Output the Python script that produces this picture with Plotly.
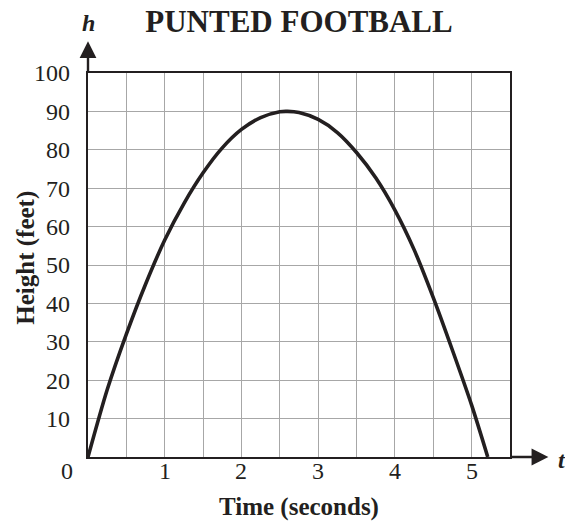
import plotly.graph_objects as go

# Values (height of the punt at each time)
time_s = [0, 0.25, 0.5, 0.75, 1.0, 1.25, 1.5, 1.75, 2.0, 2.25, 2.5, 2.6,
          2.75, 3.0, 3.25, 3.5, 3.75, 4.0, 4.25, 4.5, 4.75, 5.0, 5.21]
height_ft = [0, 17.5, 32, 45, 56.5, 66, 74, 80.5, 85.3, 88.4, 89.9, 90,
             89.7, 87.9, 84.5, 79.3, 72.7, 64.3, 54, 41.5, 27.8, 13.5, 0]

x_gridvals = [0, 0.5, 1, 1.5, 2, 2.5, 3, 3.5, 4, 4.5, 5, 5.5]
x_tick_labels = [1, 2, 3, 4, 5]
y_tickvals = [0, 10, 20, 30, 40, 50, 60, 70, 80, 90, 100]
y_ticktext = ["", "10", "20", "30", "40", "50", "60", "70", "80", "90", "100"]

INK = "#231f20"
GRID = "#a7a7a7"
FONT = "Liberation Serif"

fig = go.Figure()
fig.add_trace(go.Scatter(
    x=time_s, y=height_ft, mode="lines",
    line=dict(color=INK, width=3.6, shape="spline", smoothing=0.8),
    hoverinfo="skip", showlegend=False, cliponaxis=False,
))

fig.update_layout(
    width=565, height=521,
    margin=dict(l=88, r=55, t=73, b=64),
    paper_bgcolor="white", plot_bgcolor="white",
    font=dict(family=FONT, color=INK, size=24),
    title=dict(text="<b>PUNTED FOOTBALL</b>", x=0.5, xref="paper",
               y=1 - 21 / 521, yref="container", xanchor="center", yanchor="middle",
               font=dict(family=FONT, size=31, color=INK)),
    xaxis=dict(range=[0, 5.5], tickvals=x_gridvals, showticklabels=False,
               showgrid=True, gridcolor=GRID, gridwidth=1, zeroline=False,
               showline=True, mirror=True, linecolor=INK, linewidth=2.2,
               ticks="", ticklen=0),
    yaxis=dict(range=[0, 100], tickvals=y_tickvals, ticktext=y_ticktext,
               showgrid=True, gridcolor=GRID, gridwidth=1, zeroline=False,
               showline=True, mirror=True, linecolor=INK, linewidth=2.2,
               ticks="", ticklen=0, ticklabelstandoff=11,
               tickfont=dict(size=24, family=FONT, color=INK)),
)

annotations = [
    # y-axis arrow
    dict(x=0, y=108.3, ax=0, ay=100, xref="x", yref="y", axref="x", ayref="y",
         text="", showarrow=True, arrowhead=2, arrowsize=1.4, arrowwidth=2.4, arrowcolor=INK),
    # x-axis arrow
    dict(x=6.0, y=0, ax=5.5, ay=0, xref="x", yref="y", axref="x", ayref="y",
         text="", showarrow=True, arrowhead=2, arrowsize=1.4, arrowwidth=2.4, arrowcolor=INK),
    dict(x=0, y=1, xref="paper", yref="paper", yshift=50, text="<b><i>h</i></b>",
         showarrow=False, xanchor="center", yanchor="middle", font=dict(size=24, family=FONT, color=INK)),
    dict(x=1, y=0, xref="paper", yref="paper", xshift=46, yshift=-3, text="<b><i>t</i></b>",
         showarrow=False, xanchor="left", yanchor="middle", font=dict(size=24, family=FONT, color=INK)),
    dict(x=0, y=0, xref="paper", yref="paper", xshift=-21, yshift=-14, text="0",
         showarrow=False, xanchor="center", yanchor="middle", font=dict(size=24, family=FONT, color=INK)),
    dict(x=0.5, y=-0.13, xref="paper", yref="paper", text="<b>Time (seconds)</b>",
         showarrow=False, xanchor="center", yanchor="middle", font=dict(size=25, family=FONT, color=INK)),
    dict(x=-0.146, y=0.52, xref="paper", yref="paper", text="<b>Height (feet)</b>", textangle=-90,
         showarrow=False, xanchor="center", yanchor="middle", font=dict(size=25, family=FONT, color=INK)),
]
for v in x_tick_labels:
    annotations.append(dict(x=v, y=0, xref="x", yref="paper", yshift=-14, text=str(v),
                            showarrow=False, xanchor="center", yanchor="middle",
                            font=dict(size=24, family=FONT, color=INK)))
fig.update_layout(annotations=annotations)

fig.write_html("out.html", config={"displayModeBar": False},
               post_script="document.body.style.margin='0px';")
